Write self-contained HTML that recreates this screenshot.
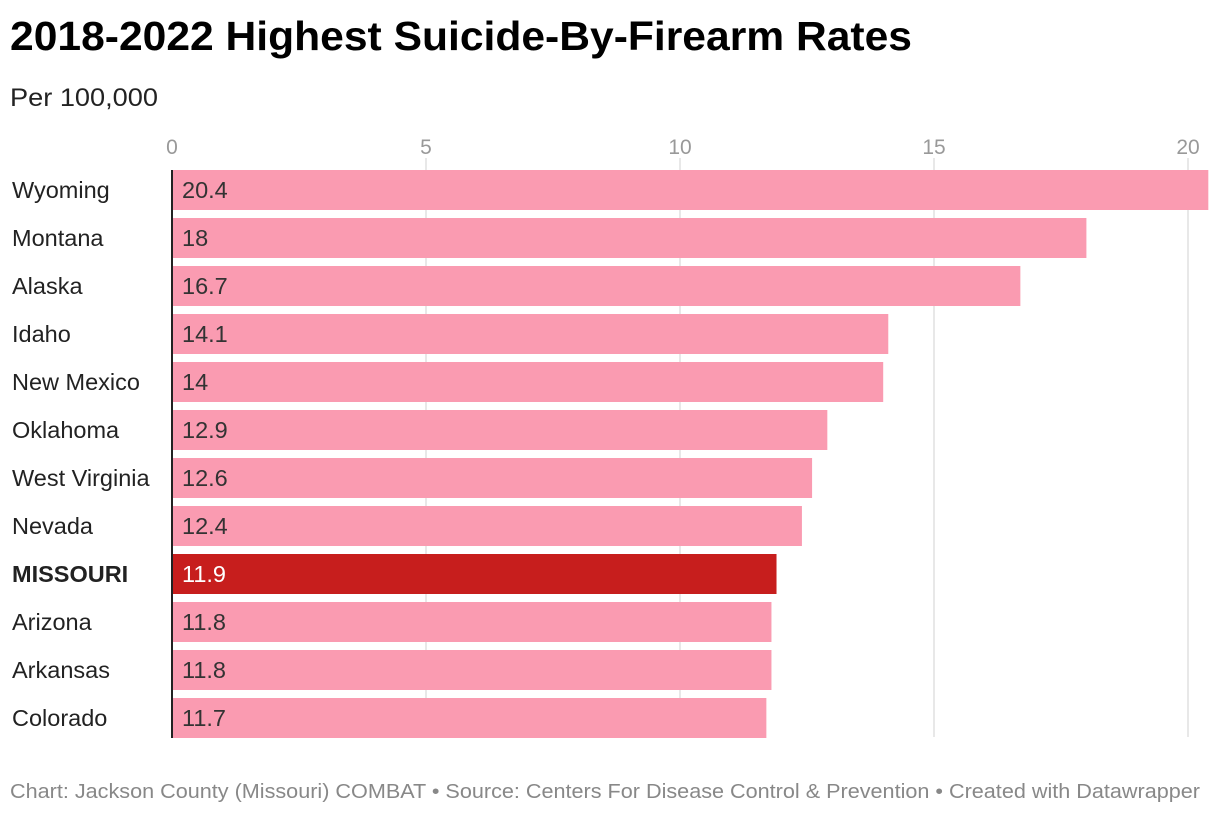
<!DOCTYPE html>
<html><head><meta charset="utf-8">
<style>
body{margin:0;background:#fff;width:1220px;height:814px;overflow:hidden;font-family:"Liberation Sans",Roboto,sans-serif;}
svg text{font-family:"Liberation Sans",sans-serif;}
</style></head>
<body>
<svg id="chart" width="1220" height="814" xmlns="http://www.w3.org/2000/svg">
<text x="10" y="50" font-size="41" font-weight="bold" fill="#000" textLength="902" lengthAdjust="spacingAndGlyphs">2018-2022 Highest Suicide-By-Firearm Rates</text>
<text x="10" y="106" font-size="25" fill="#222" textLength="148" lengthAdjust="spacingAndGlyphs">Per 100,000</text>
<g id="grid"></g>
<g id="bars"></g>
<text x="10" y="798" font-size="20" fill="#888" textLength="1190" lengthAdjust="spacingAndGlyphs">Chart: Jackson County (Missouri) COMBAT • Source: Centers For Disease Control &amp; Prevention • Created with Datawrapper</text>
</svg>
<script>
const categories=["Wyoming","Montana","Alaska","Idaho","New Mexico","Oklahoma","West Virginia","Nevada","MISSOURI","Arizona","Arkansas","Colorado"];
const values=[20.4,18,16.7,14.1,14,12.9,12.6,12.4,11.9,11.8,11.8,11.7];
const ticks=[0,5,10,15,20];
const highlight="MISSOURI";
const NS="http://www.w3.org/2000/svg";
const x0=172, pxPer=50.8, barTop=170, step=48, barH=40;
const xs=v=>x0+v*pxPer;
const ys=i=>barTop+i*step;
const grid=document.getElementById('grid'), bars=document.getElementById('bars');
function mk(tag,attrs,parent){const e=document.createElementNS(NS,tag);for(const k in attrs)e.setAttribute(k,attrs[k]);parent.appendChild(e);return e;}
ticks.forEach(t=>{
  if(t>0){const l=mk('line',{x1:xs(t),x2:xs(t),y1:158,y2:737,stroke:'#e0e0e0','stroke-width':1.5},grid);
  
  }
  const tx=mk('text',{x:xs(t),y:154,'font-size':21,fill:'#999','text-anchor':'middle'},grid);
  tx.textContent=t;
  
  
});
categories.forEach((c,i)=>{
  const hl=c===highlight;
  const r=mk('rect',{x:x0,y:ys(i),width:xs(values[i])-x0,height:barH,fill:hl?'#c71e1d':'#fa9bb1'},bars);
  
  
  const lb=mk('text',{x:12,y:ys(i)+28,'font-size':23.5,fill:'#222','font-weight':hl?'bold':'normal'},bars);
  lb.textContent=c;
  
  
  const vl=mk('text',{x:x0+10,y:ys(i)+28,'font-size':23.5,fill:hl?'#fff':'#333'},bars);
  vl.textContent=values[i];
  
  
});
const ax=mk('line',{x1:x0,x2:x0,y1:barTop,y2:ys(categories.length-1)+barH,stroke:'#222','stroke-width':2},bars);


</script>
</body></html>
